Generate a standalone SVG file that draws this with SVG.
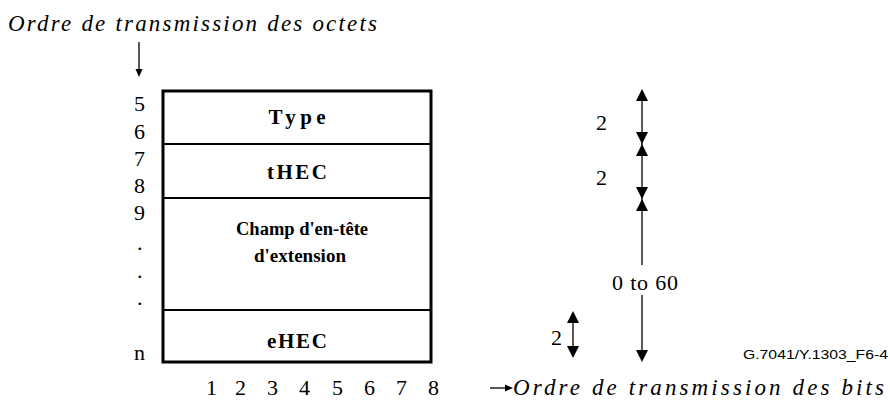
<svg xmlns="http://www.w3.org/2000/svg" width="890" height="415" viewBox="0 0 890 415">
<style>
.it{font-family:"Liberation Serif","Times New Roman",serif;font-style:italic;font-size:23px;fill:#000}
.num{font-family:"Liberation Serif","Times New Roman",serif;font-size:22px;fill:#000}
.lbl{font-family:"Liberation Serif","Times New Roman",serif;font-weight:bold;font-size:21px;fill:#000;text-anchor:middle}
.lbl2{font-family:"Liberation Serif","Times New Roman",serif;font-weight:bold;font-size:18.5px;fill:#000;text-anchor:middle}
.ref{font-family:"Liberation Sans",Arial,sans-serif;font-size:13px;fill:#000}
.ln{stroke:#000;stroke-width:1.3;fill:none}
.ah{fill:#000}
</style>
<rect width="890" height="415" fill="#fff"/>
<text class="it" x="8" y="31" textLength="369" lengthAdjust="spacing">Ordre de transmission des octets</text>
<g id="frame">
<rect x="163" y="91" width="268" height="271" fill="#fff" stroke="#000" stroke-width="3"/>
<line x1="163" y1="144" x2="431" y2="144" stroke="#000" stroke-width="2"/>
<line x1="163" y1="198" x2="431" y2="198" stroke="#000" stroke-width="2"/>
<line x1="163" y1="310" x2="431" y2="310" stroke="#000" stroke-width="2"/>
</g>
<g id="type"><text class="lbl" x="297" y="124" textLength="57" lengthAdjust="spacing">Type</text></g>
<g id="thec"><text class="lbl" x="297" y="179" textLength="60" lengthAdjust="spacing">tHEC</text></g>
<g id="champ"><text class="lbl2" x="302" y="235" textLength="132" lengthAdjust="spacingAndGlyphs">Champ d'en-tête</text><text class="lbl2" x="300" y="262" textLength="92" lengthAdjust="spacingAndGlyphs">d'extension</text></g>
<g id="ehec"><text class="lbl" x="297" y="348" textLength="60" lengthAdjust="spacing">eHEC</text></g>
<g id="octets">
<text class="num" x="134" y="111">5</text>
<text class="num" x="134" y="139">6</text>
<text class="num" x="134" y="166">7</text>
<text class="num" x="134" y="193">8</text>
<text class="num" x="134" y="220">9</text>
<text class="num" x="137" y="250">.</text>
<text class="num" x="137" y="278">.</text>
<text class="num" x="137" y="305">.</text>
<text class="num" x="134" y="360">n</text>
</g>
<g id="bits">
<text class="num" x="206" y="395">1</text>
<text class="num" x="235" y="395">2</text>
<text class="num" x="267" y="395">3</text>
<text class="num" x="299" y="395">4</text>
<text class="num" x="332" y="395">5</text>
<text class="num" x="364" y="395">6</text>
<text class="num" x="396" y="395">7</text>
<text class="num" x="428" y="395">8</text>
<text class="it" x="513" y="395" textLength="371" lengthAdjust="spacing">Ordre de transmission des bits</text>
</g>
<g id="sizes">
<text class="num" x="596" y="130">2</text>
<text class="num" x="596" y="185">2</text>
<text class="num" x="612" y="290" textLength="66" lengthAdjust="spacing">0 to 60</text>
<text class="num" x="551" y="345">2</text>
<text class="ref" x="743" y="359" textLength="145" lengthAdjust="spacingAndGlyphs">G.7041/Y.1303_F6-4</text>
</g>
<g id="connectors">
<line class="ln" x1="139" y1="42" x2="139" y2="72"/>
<polygon class="ah" points="139,77 135.5,69 142.5,69"/>
<line class="ln" x1="490" y1="388" x2="507" y2="388"/>
<polygon class="ah" points="513,388 505,384.5 505,391.5"/>
<line class="ln" x1="642" y1="95" x2="642" y2="265"/>
<line class="ln" x1="642" y1="295" x2="642" y2="355"/>
<polygon class="ah" points="642,89 636,101 648,101"/>
<polygon class="ah" points="642,144 636,132 648,132"/>
<polygon class="ah" points="642,144 636,156 648,156"/>
<polygon class="ah" points="642,199 636,187 648,187"/>
<polygon class="ah" points="642,199 636,211 648,211"/>
<polygon class="ah" points="642,362 636,350 648,350"/>
<line class="ln" x1="573" y1="316" x2="573" y2="352"/>
<polygon class="ah" points="573,311 567,323 579,323"/>
<polygon class="ah" points="573,358 567,346 579,346"/>
</g>
</svg>
